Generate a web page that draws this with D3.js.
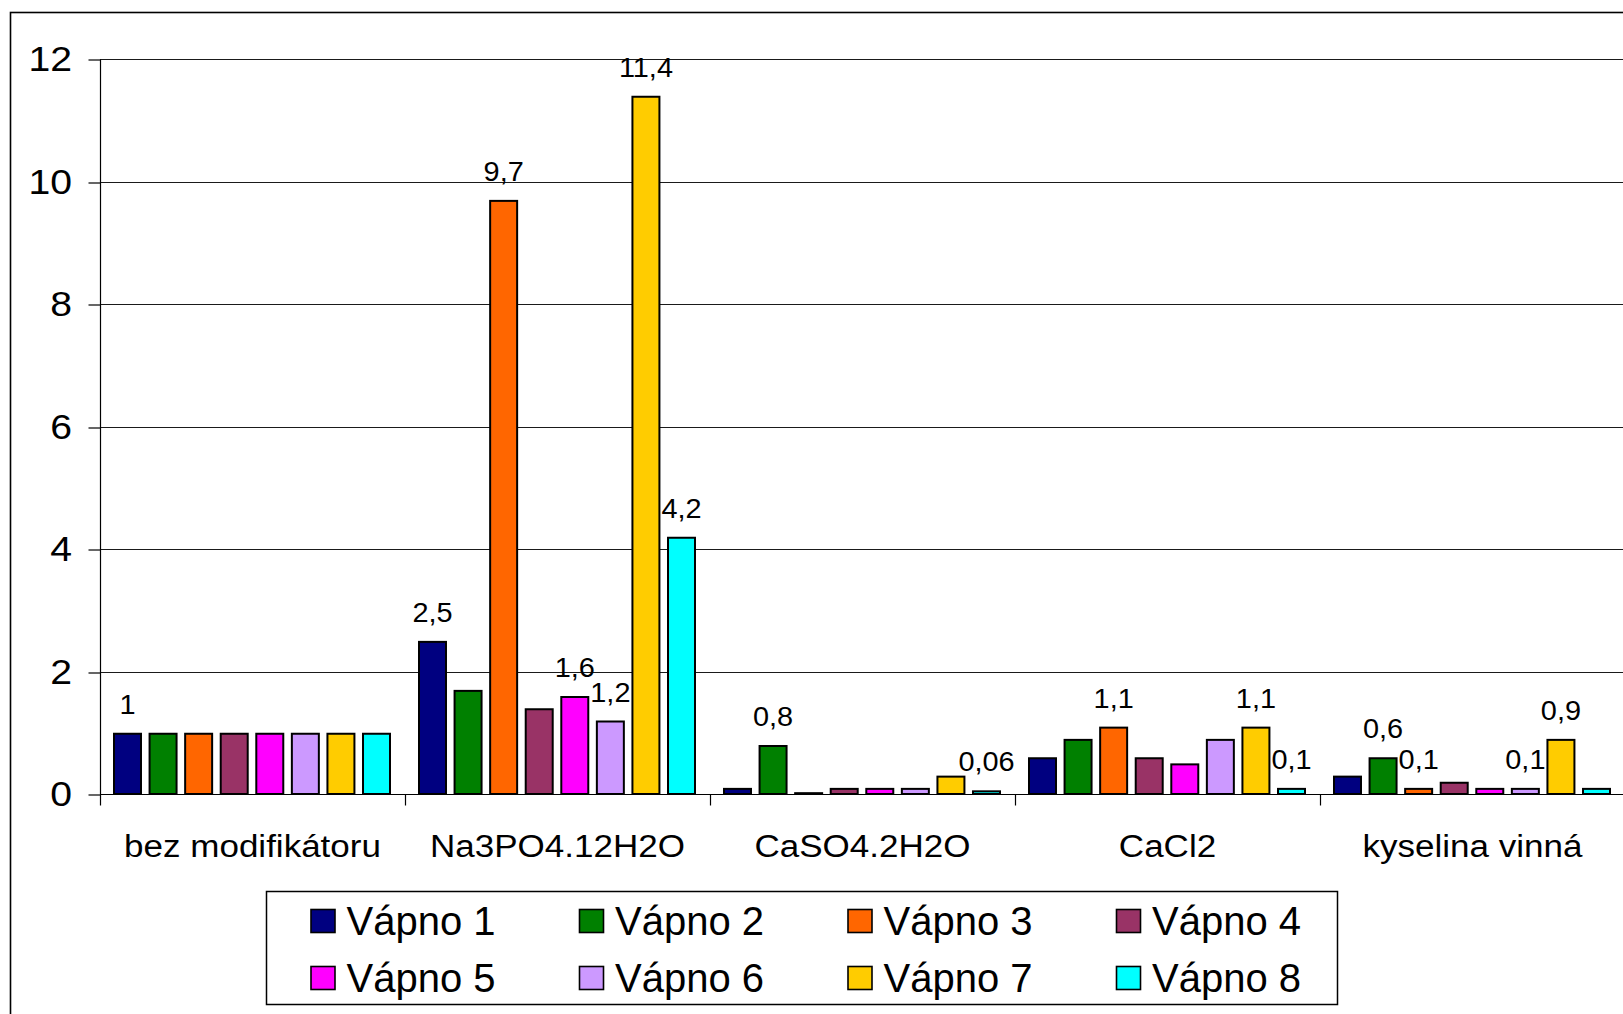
<!DOCTYPE html>
<html>
<head>
<meta charset="utf-8">
<script src="https://cdn.jsdelivr.net/npm/d3@7"></script>
<style>
  html, body { margin: 0; padding: 0; background: #fff; }
  svg { display: block; }
  text { font-family: "Liberation Sans", Arial, Helvetica, sans-serif; fill: #000; }
</style>
</head>
<body>
<svg id="chart" width="1623" height="1014"></svg>
<script>
// Categories (modifiers) along the x axis
const categories = ["bez modifikátoru", "Na3PO4.12H2O", "CaSO4.2H2O", "CaCl2", "kyselina vinná"];

// Series names
const seriesNames = ["Vápno 1", "Vápno 2", "Vápno 3", "Vápno 4", "Vápno 5", "Vápno 6", "Vápno 7", "Vápno 8"];

// Values for each series, one per category
const vapno1 = [1, 2.5, 0.1, 0.6, 0.3];
const vapno2 = [1, 1.7, 0.8, 0.9, 0.6];
const vapno3 = [1, 9.7, 0.03, 1.1, 0.1];
const vapno4 = [1, 1.4, 0.1, 0.6, 0.2];
const vapno5 = [1, 1.6, 0.1, 0.5, 0.1];
const vapno6 = [1, 1.2, 0.1, 0.9, 0.1];
const vapno7 = [1, 11.4, 0.3, 1.1, 0.9];
const vapno8 = [1, 4.2, 0.06, 0.1, 0.1];

// Which bars carry a value label
const labelled1 = [true, true, false, false, false];
const labelled2 = [false, false, true, false, true];
const labelled3 = [false, true, false, true, true];
const labelled4 = [false, false, false, false, false];
const labelled5 = [false, true, false, false, false];
const labelled6 = [false, true, false, false, true];
const labelled7 = [false, true, false, true, true];
const labelled8 = [false, true, true, true, false];

// Y axis ticks
const yTicks = [0, 2, 4, 6, 8, 10, 12];

// Series fill colours
const palette = ["#000080", "#008000", "#FF6600", "#993366", "#FF00FF", "#CC99FF", "#FFCC00", "#00FFFF"];

const seriesValues = [vapno1, vapno2, vapno3, vapno4, vapno5, vapno6, vapno7, vapno8];
const seriesLabelled = [labelled1, labelled2, labelled3, labelled4, labelled5, labelled6, labelled7, labelled8];

const bars = [];
seriesNames.forEach((s, si) => {
  categories.forEach((c, ci) => {
    bars.push({ series: s, si, category: c, ci, value: seriesValues[si][ci], labelled: seriesLabelled[si][ci] });
  });
});

const svg = d3.select("#chart");

// Plot geometry
const plotLeft = 100, plotRight = 1625, plotTop = 59, plotBottom = 794;

const x0 = d3.scaleBand().domain(categories).range([plotLeft, plotRight]).padding(0);
const x1 = d3.scaleBand().domain(seriesNames).range([13, 291]).paddingInner(0.185).paddingOuter(0);
const y = d3.scaleLinear().domain([0, 12]).range([plotBottom, plotTop]);

// Outer chart frame
svg.append("rect")
  .attr("x", 10.5).attr("y", 12.5)
  .attr("width", 1700).attr("height", 1100)
  .attr("fill", "none").attr("stroke", "#000").attr("stroke-width", 1.6);

// Horizontal gridlines
svg.append("g").selectAll("line")
  .data(yTicks.filter(t => t > 0))
  .join("line")
  .attr("x1", plotLeft).attr("x2", plotRight)
  .attr("y1", d => Math.round(y(d)) + 0.5).attr("y2", d => Math.round(y(d)) + 0.5)
  .attr("stroke", "#1a1a1a").attr("stroke-width", 1.2);

// Y axis
const yAxis = d3.axisLeft(y).tickValues(yTicks).tickSize(12).tickFormat(d => d);
const gy = svg.append("g").attr("transform", `translate(${plotLeft + 0.5},0.5)`).call(yAxis);
gy.select(".domain").attr("stroke", "#000").attr("stroke-width", 1.2)
  .attr("d", `M0,${plotTop}V${plotBottom + 11}`);
gy.selectAll(".tick line").attr("stroke", "#000").attr("stroke-width", 1.2)
  .attr("transform", d => `translate(0,${Math.round(y(d)) - y(d)})`);
gy.selectAll(".tick text").remove();

// Y tick labels, slightly widened
svg.append("g").selectAll("text")
  .data(yTicks)
  .join("text")
  .attr("text-anchor", "end")
  .attr("font-size", 35)
  .attr("transform", d => `translate(72,${y(d) + 12.3}) scale(1.12,1)`)
  .text(d => d);

// X axis line and category boundary ticks
const gx = svg.append("g").attr("transform", `translate(0.5,${plotBottom + 0.5})`);
gx.append("line")
  .attr("x1", plotLeft).attr("x2", plotRight)
  .attr("stroke", "#000").attr("stroke-width", 1.2);
gx.selectAll("line.sep")
  .data(categories.slice(1))
  .join("line").attr("class", "sep")
  .attr("x1", d => Math.round(x0(d))).attr("x2", d => Math.round(x0(d)))
  .attr("y1", 0).attr("y2", 11)
  .attr("stroke", "#000").attr("stroke-width", 1.2);

// Category labels
svg.append("g").selectAll("text")
  .data(categories)
  .join("text")
  .attr("text-anchor", "middle")
  .attr("font-size", 31)
  .attr("transform", d => `translate(${x0(d) + x0.bandwidth() / 2},857) scale(1.13,1)`)
  .text(d => d);

// Bars
const bw = x1.bandwidth();
svg.append("g").selectAll("rect")
  .data(bars)
  .join("rect")
  .attr("x", d => x0(d.category) + x1(d.series) + 1)
  .attr("y", d => y(d.value) + 1)
  .attr("width", bw - 2)
  .attr("height", d => Math.max(0, y(0) - y(d.value) - 1))
  .attr("fill", d => palette[d.si])
  .attr("stroke", "#000")
  .attr("stroke-width", 2);

// Value labels (decimal comma)
const fmt = v => String(v).replace(".", ",");
svg.append("g").selectAll("text")
  .data(bars.filter(d => d.labelled))
  .join("text")
  .attr("text-anchor", "middle")
  .attr("font-size", 27)
  .attr("transform", d => {
    const cx = x0(d.category) + x1(d.series) + bw / 2;
    return `translate(${cx},${y(d.value) - 19}) scale(1.07,1)`;
  })
  .text(d => fmt(d.value));

// Legend
const legend = svg.append("g");
legend.append("rect")
  .attr("x", 266.5).attr("y", 891.5)
  .attr("width", 1071).attr("height", 113)
  .attr("fill", "#fff").attr("stroke", "#000").attr("stroke-width", 1.5);

const legendItems = legend.selectAll("g.item")
  .data(seriesNames)
  .join("g").attr("class", "item")
  .attr("transform", (d, i) => `translate(${310.5 + (i % 4) * 268.5},${909 + Math.floor(i / 4) * 57})`);

legendItems.append("rect")
  .attr("x", 0.5).attr("y", 0.5)
  .attr("width", 24).attr("height", 23)
  .attr("fill", (d, i) => palette[i])
  .attr("stroke", "#000").attr("stroke-width", 1.6);

legendItems.append("text")
  .attr("x", 36).attr("y", 26)
  .attr("font-size", 40)
  .text(d => d);
</script>
</body>
</html>
